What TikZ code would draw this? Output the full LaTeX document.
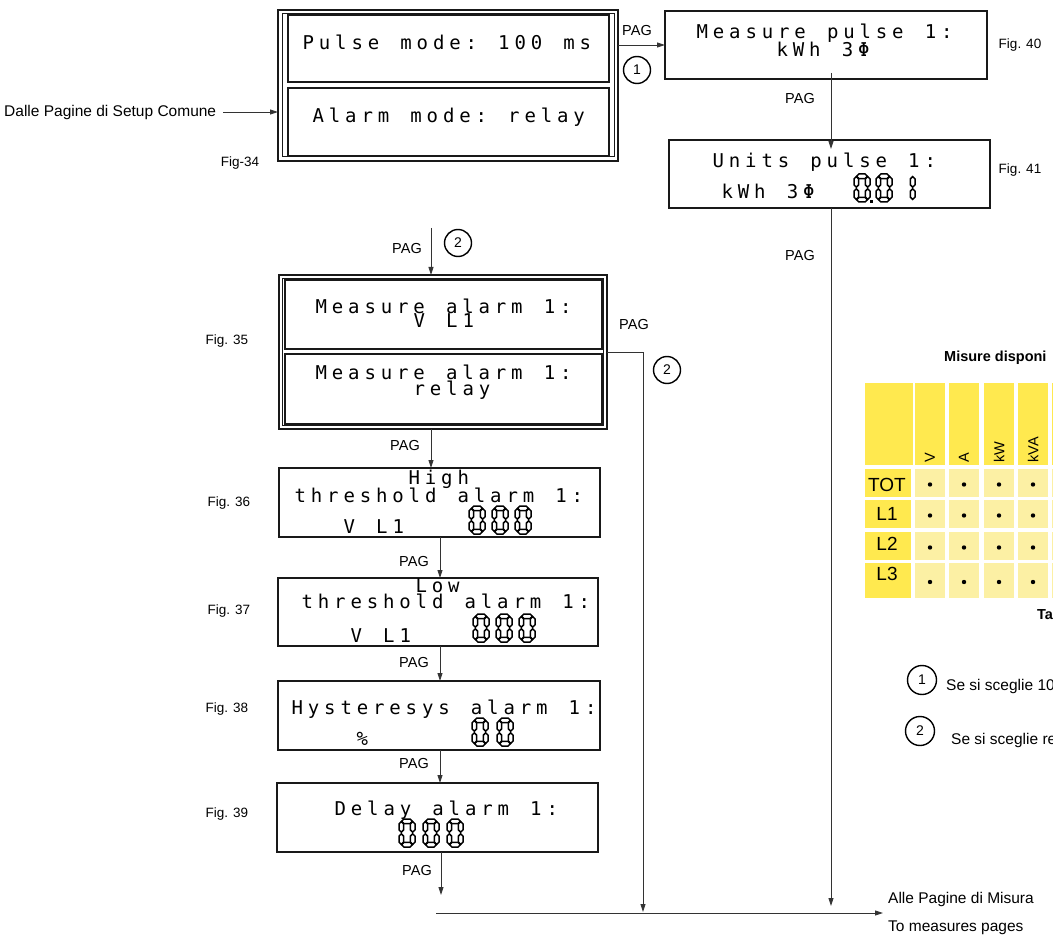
\documentclass[tikz,border=0pt]{standalone}
\usepackage{fontspec}
\setmainfont{Liberation Sans}
\newfontfamily\lcdf{DejaVu Sans Mono}
\usetikzlibrary{arrows.meta}
\makeatletter
\newcommand\lcdtxt[1]{\lcd@loop#1\relax}
\def\lcd@loop#1{\ifx#1\relax\else\makebox[16.3pt]{#1}\expandafter\lcd@loop\fi}
\makeatother
\newcommand\figf{\fontsize{13.5}{14}\selectfont}
\newcommand\lblf{\fontsize{15.5}{16}\selectfont}
\newcommand\pagf{\fontsize{14.5}{15}\selectfont}
\newcommand\segH[3]{\filldraw[segst] (#2,#1) -- (#2+2.3,#1-2.3) -- (#3-2.3,#1-2.3) -- (#3,#1) -- (#3-2.3,#1+2.3) -- (#2+2.3,#1+2.3) -- cycle;}
\newcommand\segV[3]{\filldraw[segst] (#1,#2) -- (#1+2.3,#2+2.3) -- (#1+2.3,#3-2.3) -- (#1,#3) -- (#1-2.3,#3-2.3) -- (#1-2.3,#2+2.3) -- cycle;}
\newcommand\dzero[2]{\begin{scope}[shift={(#1,#2)}]
 \segH{2.3}{2.6}{13.4}\segV{13.7}{2.6}{13.2}\segV{13.7}{14.8}{25.4}
 \segH{25.7}{2.6}{13.4}\segV{2.3}{14.8}{25.4}\segV{2.3}{2.6}{13.2}\end{scope}}
\newcommand\done[2]{\begin{scope}[shift={(#1,#2)}]
 \segV{13.7}{2.6}{13.2}\segV{13.7}{14.8}{25.4}\end{scope}}
\newcommand\dpoint[2]{\fill (#1,#2) rectangle ++(3.2,-3.2);}
\definecolor{hdr}{HTML}{FFE94F}
\definecolor{cell}{HTML}{FCF0A4}
\begin{document}
\begin{tikzpicture}[x=1pt,y=-1pt,
  lcdbox/.style={draw=black!90, line width=2.4pt, inner sep=0pt, outer sep=0pt, fill=white},
  frame/.style={draw=black!90, line width=2.6pt, inner sep=0pt, outer sep=0pt},
  thinline/.style={draw=black!90, line width=1pt},
  lcd/.style={font=\lcdf\fontsize{19}{19}\selectfont, inner sep=0pt, anchor=base west},
  segst/.style={draw=black, fill=white, line width=1.5pt, line join=miter},
  arr/.style={draw=black!80, line width=0.9pt, -{Triangle[length=8pt,width=5pt]}},
  pag/.style={font=\pagf, inner sep=0pt},
  figl/.style={font=\figf, inner sep=0pt},
  lbl/.style={font=\lblf, inner sep=0pt},
  circ/.style={circle, draw=black, line width=1.4pt, minimum size=27pt, inner sep=0pt, font=\fontsize{14}{14}\selectfont},
  tbl/.style={inner sep=0pt},
  ]
\path[use as bounding box] (0,0) rectangle (1053,936);
\begin{scope}
\clip (0,0) rectangle (1053,936);

% ---------- Fig-34 group
\node[frame, minimum width=340pt, minimum height=151pt] (f34) at (448,85.5) {};
\draw[thinline] ([shift={(4,4)}]f34.north west) rectangle ([shift={(-4,-4)}]f34.south east);
\node[lcdbox, minimum width=321pt, minimum height=67pt] (b34a) at (448.5,48.5) {};
\node[lcdbox, minimum width=321pt, minimum height=68pt] (b34b) at (448.5,122) {};
\node[lcd] (t34a) at (300,50) {\lcdtxt{Pulse~mode:~100~ms}};
\node[lcd] (t34b) at (310,123) {\lcdtxt{Alarm~mode:~relay}};
\node[lbl, anchor=west] (dalle) at (4,112) {Dalle Pagine di Setup Comune};
\node[figl] (fig34) at (240,163) {Fig-34};
\draw[arr] ([xshift=7pt]dalle.east) -- (dalle.east -| f34.west);

% ---------- Fig 40 / 41
\node[lcdbox, minimum width=322pt, minimum height=68pt] (b40) at (826,45) {};
\node[lcd] (t40a) at (694,39) {\lcdtxt{Measure~pulse~1:}};
\node[lcd] (t40b) at (774,57) {\lcdtxt{kWh~3Φ}};
\node[figl] (fig40) at (1020,45) {Fig. 40};
\draw[arr] (f34.east |- b40.west) -- (b40.west);
\node[pag] (pagA) at (637,31) {PAG};
\node[circ] (c1a) at (637,70) {1};

\node[lcdbox, minimum width=321pt, minimum height=68pt] (b41) at (829.5,174) {};
\node[lcd] (t41a) at (710,168) {\lcdtxt{Units~pulse~1:}};
\node[lcd] (t41b) at (719,199) {\lcdtxt{kWh~3Φ}};
\dzero{854}{174}\dpoint{870}{203}\dzero{876}{174}\done{899}{174}
\node[figl] (fig41) at (1020,170) {Fig. 41};
\coordinate (c41) at (831,0);
\draw[arr] ([yshift=6pt]b40.south -| c41) -- ([yshift=-9pt]b41.north -| c41);
\node[pag] (pagB) at (800,99) {PAG};
\coordinate (endR) at (831,906);
\draw[arr] (b41.south -| endR) -- (endR);
\node[pag] (pagC) at (800,256) {PAG};

% ---------- Fig 35 group
\coordinate (in35) at (431,228);
\node[frame, minimum width=328pt, minimum height=154pt] (f35) at (443,352) {};
\draw[thinline] ([shift={(3.5,3.5)}]f35.north west) rectangle ([shift={(-3.5,-3.5)}]f35.south east);
\node[lcdbox, line width=2pt, minimum width=317pt, minimum height=68pt] (b35a) at (443.5,314.5) {};
\node[lcdbox, line width=2pt, minimum width=317pt, minimum height=70pt] (b35b) at (443.5,389) {};
\node[lcd] (t35a) at (313,313) {\lcdtxt{Measure~alarm~1:}};
\node[lcd] (t35b) at (411,327) {\lcdtxt{V~L1}};
\node[lcd] (t35c) at (313,379) {\lcdtxt{Measure~alarm~1:}};
\node[lcd] (t35d) at (411,395) {\lcdtxt{relay}};
\node[figl] (fig35) at (227,341) {Fig. 35};
\draw[arr] (in35) -- (in35 |- f35.north);
\node[pag] (pagD) at (407,249) {PAG};
\node[circ] (c2a) at (458,243) {2};
\coordinate (r35) at (643,912);
\draw[arr] (f35.east) -| (r35);
\node[pag] (pagE) at (634,325) {PAG};
\node[circ] (c2b) at (667,370) {2};

% ---------- Fig 36
\node[lcdbox, minimum width=321pt, minimum height=69pt] (b36) at (439.5,502.5) {};
\node[lcd] (t36a) at (406,484) {\lcdtxt{High}};
\node[lcd] (t36b) at (292,502) {\lcdtxt{threshold~alarm~1:}};
\node[lcd] (t36c) at (341,533) {\lcdtxt{V~L1}};
\dzero{469}{506}\dzero{492}{506}\dzero{515}{506}
\node[figl] (fig36) at (229,503) {Fig. 36};
\coordinate (colA) at (431,0);
\draw[arr] (f35.south -| colA) -- (b36.north -| colA);
\node[pag] (pagF) at (405,446) {PAG};

% ---------- Fig 37
\node[lcdbox, minimum width=320pt, minimum height=68pt] (b37) at (438,612) {};
\node[lcd] (t37a) at (413,592) {\lcdtxt{Low}};
\node[lcd] (t37b) at (299,608) {\lcdtxt{threshold~alarm~1:}};
\node[lcd] (t37c) at (348,642) {\lcdtxt{V~L1}};
\dzero{473}{614}\dzero{496}{614}\dzero{519}{614}
\node[figl] (fig37) at (229,611) {Fig. 37};
\coordinate (colB) at (440,0);
\draw[arr] (b36.south -| colB) -- (b37.north -| colB);
\node[pag] (pagG) at (414,562) {PAG};

% ---------- Fig 38
\node[lcdbox, minimum width=322pt, minimum height=69pt] (b38) at (439,715.5) {};
\node[lcd] (t38a) at (289,714) {\lcdtxt{Hysteresys~alarm~1:}};
\node[lcd] (t38b) at (354,745) {\lcdtxt{\%}};
\dzero{472}{718}\dzero{497}{718}
\node[figl] (fig38) at (227,709) {Fig. 38};
\draw[arr] (b37.south -| colB) -- (b38.north -| colB);
\node[pag] (pagH) at (414,663) {PAG};

% ---------- Fig 39
\node[lcdbox, minimum width=321pt, minimum height=69pt] (b39) at (437.5,817.5) {};
\node[lcd] (t39a) at (332,815) {\lcdtxt{Delay~alarm~1:}};
\dzero{399}{819}\dzero{423}{819}\dzero{447}{819}
\node[figl] (fig39) at (227,814) {Fig. 39};
\draw[arr] (b38.south -| colB) -- (b39.north -| colB);
\node[pag] (pagI) at (414,764) {PAG};
\coordinate (out39) at (441,895);
\draw[arr] (b39.south -| out39) -- (out39);
\node[pag] (pagJ) at (417,871) {PAG};

% ---------- bottom exit
\coordinate (hstart) at (436,913);
\coordinate (hend) at (883,913);
\draw[arr] (hstart) -- (hend);
\node[lbl, anchor=west] (alle) at (888,899) {Alle Pagine di Misura};
\node[lbl, anchor=west] (tomp) at (888,928) {To measures pages};

% ---------- table
\node[font=\bfseries\fontsize{14.5}{15}\selectfont, inner sep=0pt, anchor=west] (ttitle) at (944,358) {Misure disponi};
\fill[hdr] (865,383) rectangle (913,465);
\foreach \xa/\xb in {915/945, 949/979, 984/1014, 1018/1048, 1052/1082}{
  \fill[hdr] (\xa,383) rectangle (\xb,465);
  \foreach \ya/\yb in {469/497, 500/528, 532/560, 563/598}{
    \fill[cell] (\xa,\ya) rectangle (\xb,\yb);
    \fill[black] ({(\xa+\xb)/2},{(\ya+\yb)/2+1.5}) circle (2.2);
  }
}
\foreach \ya/\yb in {469/497, 500/528, 532/560, 563/598}{
  \fill[hdr] (865,\ya) rectangle (911,\yb);
}
\node[tbl, rotate=90, anchor=west, font=\fontsize{14.5}{15}\selectfont] (hV) at (930,463) {V};
\node[tbl, rotate=90, anchor=west, font=\fontsize{14.5}{15}\selectfont] (hA) at (964,463) {A};
\node[tbl, rotate=90, anchor=west, font=\fontsize{14.5}{15}\selectfont] (hkW) at (999,463) {kW};
\node[tbl, rotate=90, anchor=west, font=\fontsize{14.5}{15}\selectfont] (hkVA) at (1033,463) {kVA};
\node[tbl, font=\fontsize{19}{19}\selectfont] (rTOT) at (887,485) {TOT};
\node[tbl, font=\fontsize{19}{19}\selectfont] (rL1) at (887,514) {L1};
\node[tbl, font=\fontsize{19}{19}\selectfont] (rL2) at (887,544) {L2};
\node[tbl, font=\fontsize{19}{19}\selectfont] (rL3) at (887,574) {L3};
\node[font=\bfseries\fontsize{14.5}{15}\selectfont, inner sep=0pt, anchor=west] (tcap) at (1037,615) {Ta};

% ---------- legend
\node[circ, minimum size=29pt] (lc1) at (922,680) {1};
\node[lbl, anchor=west] (lt1) at (946,686) {Se si sceglie 10};
\node[circ, minimum size=29pt] (lc2) at (920,731) {2};
\node[lbl, anchor=west] (lt2) at (951,740) {Se si sceglie re};
\end{scope}
\end{tikzpicture}
\end{document}
